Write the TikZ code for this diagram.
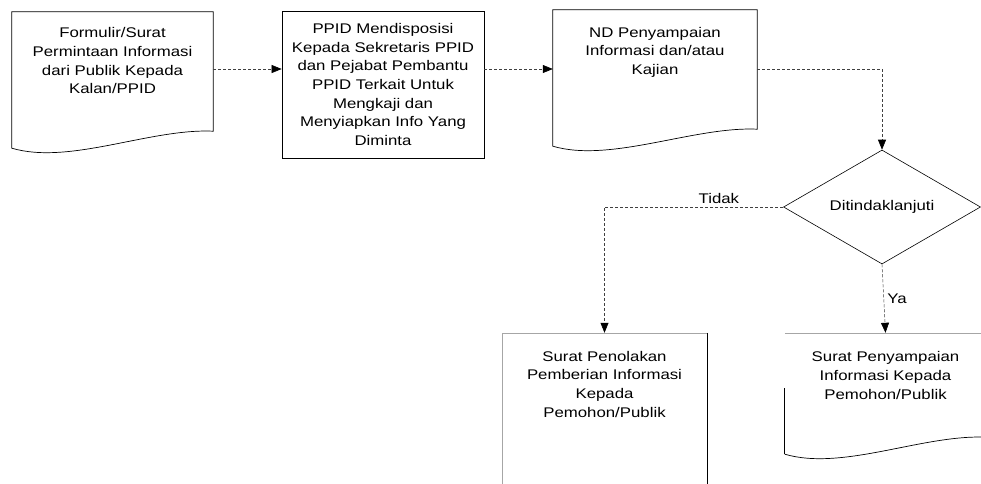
\documentclass[tikz,border=0pt]{standalone}
\usepackage{fontspec}
\setmainfont{Liberation Sans}[FakeStretch=1.2]
\usetikzlibrary{shapes.geometric,arrows.meta,positioning}

% document shape: flat top, wavy bottom
\newcommand{\docpath}[1]{([yshift=4pt]#1.south west) -- (#1.north west) -- (#1.north east)
  -- ([yshift=21pt]#1.south east)
  .. controls ([xshift=-63pt,yshift=24pt]#1.south east) and ([xshift=58pt,yshift=-13pt]#1.south west)
  .. ([yshift=4pt]#1.south west) -- cycle}

\tikzset{
  txt/.style={align=center, inner sep=0pt, font=\fontsize{14}{18.7}\selectfont},
  docbox/.style={minimum width=#1, minimum height=140pt, inner sep=0pt},
  box/.style={draw, line width=0.7pt},
  faint/.style={draw=black!35, line width=0.5pt},
  decision/.style={diamond, draw, line width=0.6pt, aspect=1.73, minimum width=197pt, minimum height=114pt, inner sep=0pt, font=\fontsize{14}{18.7}\selectfont},
  flow/.style={draw=black!75, densely dashed, line width=0.6pt, -{Triangle[length=10pt,width=8pt,color=black]}},
}

\begin{document}
\begin{tikzpicture}[x=1pt, y=-1pt]
    \useasboundingbox (0,0) rectangle (981,483);
    \clip (0,0) rectangle (981,483);

    % top row
    \node[docbox=201pt] (form) at (112.5,82) {};
    \draw[box] \docpath{form};
    \node[txt] (formtxt) at ([yshift=-49pt]form.north)
        {Formulir/Surat\\Permintaan Informasi\\dari Publik Kepada\\Kalan/PPID};

    \node[box, txt, minimum width=202pt, minimum height=147pt] (disp) at (383,84.5)
        {PPID Mendisposisi\\Kepada Sekretaris PPID\\dan Pejabat Pembantu\\PPID Terkait Untuk\\Mengkaji dan\\Menyiapkan Info Yang\\Diminta};

    \node[docbox=204pt] (nd) at (655,80) {};
    \draw[box] \docpath{nd};
    \node[txt] (ndtxt) at ([yshift=-42.5pt]nd.north)
        {ND Penyampaian\\Informasi dan/atau\\Kajian};

    \coordinate (mid) at (0,69);

    % decision
    \node[decision] (cek) at (882,207) {Ditindaklanjuti};

    % bottom row
    \node[minimum width=205pt, minimum height=170pt, inner sep=0pt] (tolak) at (604.5,418) {};
    \draw[faint] (tolak.south west) -- (tolak.north west) -- (tolak.north east);
    \draw[box] (tolak.north east) -- (tolak.south east);
    \node[txt] (tolaktxt) at ([yshift=-51.5pt]tolak.north)
        {Surat Penolakan\\Pemberian Informasi\\Kepada\\Pemohon/Publik};

    \node[docbox=201pt, minimum height=125pt] (sampai) at (885.5,395.5) {};
    \draw[faint] (sampai.north west) -- (sampai.north east);
    \draw[box] ([yshift=4pt]sampai.south west) -- ([yshift=70pt]sampai.south west);
    \draw[box] ([yshift=4pt]sampai.south west)
        .. controls ([xshift=58pt,yshift=-13pt]sampai.south west) and ([xshift=-63pt,yshift=24pt]sampai.south east)
        .. ([yshift=21pt]sampai.south east) -- (sampai.north east);
    \node[txt] (sampaitxt) at ([yshift=-42.5pt]sampai.north)
        {Surat Penyampaian\\Informasi Kepada\\Pemohon/Publik};

    % connectors
    \draw[flow] (form.east |- mid) -- (disp.west |- mid);
    \draw[flow] (disp.east |- mid) -- (nd.west |- mid);
    \draw[flow] (nd.east |- mid) -| (cek.north);
    \draw[flow] (cek.west) -| node[pos=0.18, above, font=\fontsize{14}{18.7}\selectfont] {Tidak} (tolak.north);
    \draw[flow] (cek.south) -- node[midway, right, font=\fontsize{14}{18.7}\selectfont] {Ya} (sampai.north);
\end{tikzpicture}
\end{document}
